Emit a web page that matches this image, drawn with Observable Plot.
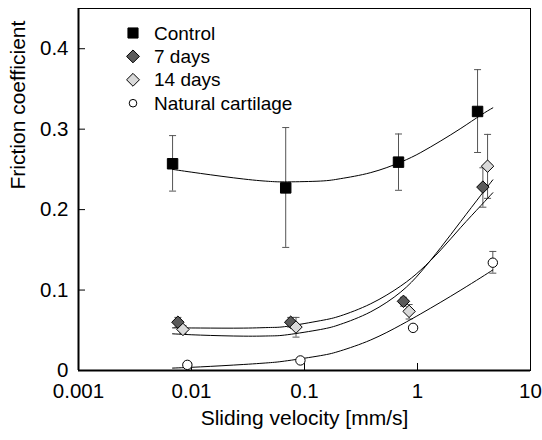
<!DOCTYPE html>
<html><head><meta charset="utf-8">
<script src="https://cdn.jsdelivr.net/npm/d3@7"></script>
<script src="https://cdn.jsdelivr.net/npm/@observablehq/plot@0.6"></script>
<style>
html,body{margin:0;padding:0;background:#fff;}
#wrap{position:relative;width:542px;height:440px;font-family:"Liberation Sans",Arial,sans-serif;}
#legend{position:absolute;left:0;top:0;pointer-events:none;}
</style></head><body><div id="wrap"></div>
<script>
// ---- data ----
const seriesNames = ["Control", "7 days", "14 days", "Natural cartilage"];

const velocityControl = [0.0068, 0.0682, 0.679, 3.40];
const frictionControl = [0.257, 0.227, 0.259, 0.322];
const lowControl      = [0.223, 0.153, 0.224, 0.271];
const highControl     = [0.292, 0.302, 0.294, 0.374];

const velocity7 = [0.00758, 0.0755, 0.751, 3.79];
const friction7 = [0.060, 0.060, 0.086, 0.228];
const low7      = [0.054, 0.054, 0.080, 0.203];
const high7     = [0.066, 0.066, 0.091, 0.252];

const velocity14 = [0.0084, 0.0841, 0.843, 4.17];
const friction14 = [0.051, 0.054, 0.0735, 0.254];
const low14      = [0.046, 0.0415, 0.064, 0.214];
const high14     = [0.056, 0.066, 0.082, 0.2935];

const velocityNatural = [0.00919, 0.092, 0.914, 4.64];
const frictionNatural = [0.007, 0.0125, 0.053, 0.134];
const lowNatural      = [null, null, null, 0.121];
const highNatural     = [null, null, null, 0.148];

// fitted curves
const curveVelocity = [0.0068, 0.012, 0.029, 0.05, 0.071, 0.139, 0.209, 0.386, 0.71, 1.07, 1.61, 2.42, 3.64, 4.64];
const fitControl = [0.250, 0.245, 0.238, 0.235, 0.2345, 0.2355, 0.2385, 0.246, 0.259, 0.271, 0.2855, 0.301, 0.3175, 0.3265];
const fit7       = [0.053, 0.0528, 0.0527, 0.0535, 0.055, 0.062, 0.068, 0.083, 0.105, 0.125, 0.150, 0.178, 0.205, 0.221];
const fit14      = [0.0456, 0.044, 0.0427, 0.043, 0.0445, 0.051, 0.0575, 0.073, 0.0975, 0.1225, 0.153, 0.1855, 0.218, 0.237];
const fitNatural = [0.003, 0.0045, 0.0075, 0.0098, 0.0122, 0.0185, 0.0245, 0.038, 0.0565, 0.0705, 0.085, 0.100, 0.1155, 0.125];

const xDomain = [0.001, 10];
const yDomain = [0, 0.45];
const xTickValues = [0.001, 0.01, 0.1, 1, 10];
const xTickLabels = ["0.001", "0.01", "0.1", "1", "10"];
const yTickValues = [0, 0.1, 0.2, 0.3, 0.4];
const yTickLabels = ["0", "0.1", "0.2", "0.3", "0.4"];
const xTitle = "Sliding velocity [mm/s]";
const yTitle = "Friction coefficient";

// ---- build tables ----
const raw = [
  [velocityControl, frictionControl, lowControl, highControl],
  [velocity7, friction7, low7, high7],
  [velocity14, friction14, low14, high14],
  [velocityNatural, frictionNatural, lowNatural, highNatural]
];
const points = raw.flatMap(([v, f, lo, hi], k) => v.map((vv, i) => ({name: seriesNames[k], v: vv, f: f[i], lo: lo[i], hi: hi[i]})));
const bars = points.filter(d => d.lo != null && d.hi != null);
const caps = bars.flatMap(d => [{v: d.v, y: d.lo}, {v: d.v, y: d.hi}]);
const fits = [fitControl, fit7, fit14, fitNatural].flatMap((arr, k) => curveVelocity.map((v, i) => ({k, v, f: arr[i]})));

const looks = {
  "Control": {symbol: "square", fill: "black", stroke: "black", r: 5.9, legendR: 5.7},
  "7 days": {symbol: "diamond2", fill: "#5a5a5a", stroke: "black", r: 5.6, legendR: 5.8},
  "14 days": {symbol: "diamond2", fill: "#d9d9d9", stroke: "black", r: 5.6, legendR: 5.8},
  "Natural cartilage": {symbol: "circle", fill: "white", stroke: "black", r: 4.7, legendR: 3.8}
};

const capSymbol = {draw(ctx) { ctx.moveTo(-3.5, 0); ctx.lineTo(3.5, 0); }};
const font = '"Liberation Sans", Arial, sans-serif';

const plot = Plot.plot({
  width: 542, height: 440,
  marginLeft: 78, marginRight: 12, marginTop: 8, marginBottom: 70,
  style: {fontFamily: font, fontSize: "20.5px", color: "black", background: "white"},
  x: {type: "log", domain: xDomain},
  y: {domain: yDomain},
  marks: [
    Plot.frame({stroke: "black", strokeWidth: 1}),
    Plot.ruleX([xDomain[0]], {stroke: "black", strokeWidth: 2}),
    Plot.ruleY([yDomain[0]], {stroke: "black", strokeWidth: 2}),
    Plot.tickY(yTickValues.filter(d => d > 0), {y: d => d, insetRight: 445, stroke: "black"}),
    Plot.tickX(xTickValues.slice(1, -1), {x: d => d, insetTop: 355, stroke: "black"}),
    Plot.axisX({ticks: xTickValues, tickSize: 0, tickPadding: 13, label: null,
      tickFormat: d => xTickLabels[xTickValues.indexOf(d)]}),
    Plot.axisY({ticks: yTickValues, tickSize: 0, tickPadding: 10, label: null,
      tickFormat: d => yTickLabels[yTickValues.indexOf(d)]}),
    Plot.text([yTitle], {frameAnchor: "left", rotate: -90, dx: -60.5, fontSize: 21}),
    Plot.text([xTitle], {frameAnchor: "bottom", dy: 54, fontSize: 21}),
    // error bars
    Plot.ruleX(bars, {x: "v", y1: "lo", y2: "hi", stroke: "#555", strokeWidth: 1}),
    Plot.dot(caps, {x: "v", y: "y", symbol: capSymbol, stroke: "#555", strokeWidth: 1, fill: "none", r: 4}),
    // fitted curves
    Plot.line(fits, {x: "v", y: "f", z: "k", curve: "natural", stroke: "black", strokeWidth: 1}),
    // markers
    ...seriesNames.map(name => Plot.dot(points.filter(d => d.name === name), {
      x: "v", y: "f", symbol: looks[name].symbol, fill: looks[name].fill,
      stroke: looks[name].stroke, strokeWidth: 1, r: looks[name].r
    }))
  ]
});

const wrap = document.getElementById("wrap");
wrap.appendChild(plot);

// legend overlay
const leg = d3.select(wrap).append("svg").attr("id", "legend").attr("width", 542).attr("height", 440);
const typeOf = {square: d3.symbolSquare, diamond2: d3.symbolDiamond2, circle: d3.symbolCircle};
seriesNames.forEach((name, i) => {
  const cy = 33 + i * 23.4;
  const L = looks[name];
  leg.append("path")
    .attr("d", d3.symbol(typeOf[L.symbol], Math.PI * L.legendR * L.legendR)())
    .attr("transform", `translate(133,${cy})`)
    .attr("fill", L.fill).attr("stroke", L.stroke).attr("stroke-width", 1);
  leg.append("text").attr("x", 154).attr("y", cy).attr("dy", "0.35em")
    .attr("font-family", font).attr("font-size", 19).attr("fill", "black").text(name);
});
</script></body></html>
